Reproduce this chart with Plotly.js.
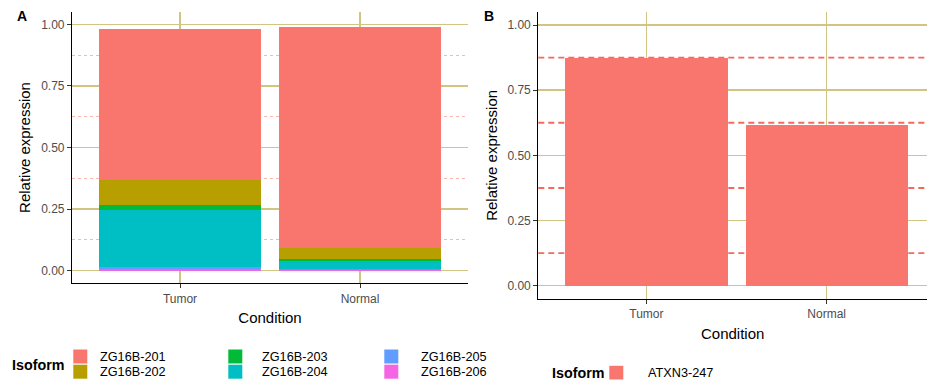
<!DOCTYPE html>
<html>
<head>
<meta charset="utf-8">
<script src="https://cdn.plot.ly/plotly-3.0.1.min.js"></script>
<style>html,body{margin:0;padding:0;background:#fff;}#chart{width:927px;height:382px;}</style>
</head>
<body>
<div id="chart"></div>
<script>
// ---- data ----
const conditions = ['Tumor', 'Normal'];
const isoformsA = ['ZG16B-201', 'ZG16B-202', 'ZG16B-203', 'ZG16B-204', 'ZG16B-205', 'ZG16B-206'];
const colorsA = ['#F8766D', '#B79F00', '#00BA38', '#00BFC4', '#619CFF', '#F564E3'];
const zg16b201 = [0.611, 0.897];
const zg16b202 = [0.105, 0.044];
const zg16b203 = [0.020, 0.008];
const zg16b204 = [0.230, 0.033];
const zg16b205 = [0.010, 0.006];
const zg16b206 = [0.005, 0.002];
const isoformsB = ['ATXN3-247'];
const colorsB = ['#F8766D'];
const atxn3_247 = [0.873, 0.615];
const yTickVals = [0, 0.25, 0.5, 0.75, 1];
const yTickText = ['0.00', '0.25', '0.50', '0.75', '1.00'];
const yMinorVals = [0.125, 0.375, 0.625, 0.875];

// ---- helpers ----
const W = 927, H = 382;
const px = v => v / W;
const py = v => 1 - v / H;
const FONT = 'Liberation Sans, Arial, Helvetica, sans-serif';
const GRID = '#D2C482';

const seriesA = [zg16b201, zg16b202, zg16b203, zg16b204, zg16b205, zg16b206];
const traces = [];
// ggplot stacks first level on top: add bottom-most first
for (let i = seriesA.length - 1; i >= 0; i--) {
  traces.push({
    type: 'bar', x: conditions, y: seriesA[i], name: isoformsA[i],
    marker: {color: colorsA[i], line: {width: 0}}, width: 0.9,
    xaxis: 'x', yaxis: 'y', showlegend: false
  });
}
traces.push({
  type: 'bar', x: conditions, y: atxn3_247, name: isoformsB[0],
  marker: {color: colorsB[0], line: {width: 0}}, width: 0.9,
  xaxis: 'x2', yaxis: 'y2', showlegend: false
});

function xAxis(domain, range, anchor) {
  return {
    domain: domain, range: range, anchor: anchor, type: 'category',
    categoryorder: 'array', categoryarray: conditions,
    showline: true, linecolor: '#000', linewidth: 1.1, mirror: false,
    ticks: 'outside', ticklen: 4, tickwidth: 1, tickcolor: '#333',
    showgrid: true, gridcolor: GRID, gridwidth: 1.5, zeroline: false,
    tickfont: {family: FONT, size: 12, color: '#4D4D4D'},
    title: {text: 'Condition', font: {family: FONT, size: 15, color: '#000'}, standoff: 8},
    automargin: false, fixedrange: true
  };
}
function yAxis(domain, anchor, minor) {
  const ax = {
    domain: domain, range: [-0.05, 1.05], anchor: anchor,
    tickmode: 'array', tickvals: yTickVals, ticktext: yTickText,
    showline: true, linecolor: '#000', linewidth: 1.1,
    ticks: 'outside', ticklen: 4, tickwidth: 1, tickcolor: '#333',
    showgrid: true, gridcolor: GRID, gridwidth: 1.5, zeroline: false,
    tickfont: {family: FONT, size: 12, color: '#4D4D4D'},
    title: {text: 'Relative expression', font: {family: FONT, size: 15, color: '#000'}, standoff: 6},
    automargin: false, fixedrange: true
  };
  if (minor) ax.minor = minor;
  return ax;
}

const shapes = [];
const annotations = [];
// dashed reference lines in panel B (drawn under the bars)
yMinorVals.forEach(v => {
  shapes.push({type: 'line', xref: 'x2 domain', yref: 'y2', x0: 0, x1: 1, y0: v, y1: v, layer: 'below',
    line: {color: '#F4695B', width: 1.9, dash: '6px,4px'}});
});
// panel tags
annotations.push({xref: 'paper', yref: 'paper', x: px(15), y: py(16), xanchor: 'left', yanchor: 'middle',
  text: 'A', showarrow: false, font: {family: FONT, size: 14, color: '#000', weight: 'bold'}});
annotations.push({xref: 'paper', yref: 'paper', x: px(481.5), y: py(16), xanchor: 'left', yanchor: 'middle',
  text: 'B', showarrow: false, font: {family: FONT, size: 14, color: '#000', weight: 'bold'}});

// legend A (3 columns x 2 rows, column-major like ggplot)
annotations.push({xref: 'paper', yref: 'paper', x: px(9.5), y: py(364.5), xanchor: 'left', yanchor: 'middle',
  text: 'Isoform', showarrow: false, font: {family: FONT, size: 14.3, color: '#000', weight: 'bold'}});
const colKeyX = [73.3, 228.3, 384.3];
const colTextX = [97.7, 260, 419];
const rowTop = [349.5, 364.7];
isoformsA.forEach((name, i) => {
  const c = Math.floor(i / 2), r = i % 2;
  shapes.push({type: 'rect', xref: 'paper', yref: 'paper', x0: px(colKeyX[c]), x1: px(colKeyX[c] + 14),
    y0: py(rowTop[r] + 14), y1: py(rowTop[r]), fillcolor: colorsA[i], line: {width: 0}});
  annotations.push({xref: 'paper', yref: 'paper', x: px(colTextX[c]), y: py(rowTop[r] + 7.3), xanchor: 'left', yanchor: 'middle',
    text: name, showarrow: false, font: {family: FONT, size: 12.7, color: '#000'}});
});
// legend B
annotations.push({xref: 'paper', yref: 'paper', x: px(549.5), y: py(372.5), xanchor: 'left', yanchor: 'middle',
  text: 'Isoform', showarrow: false, font: {family: FONT, size: 14.3, color: '#000', weight: 'bold'}});
isoformsB.forEach((name, i) => {
  shapes.push({type: 'rect', xref: 'paper', yref: 'paper', x0: px(609.3), x1: px(623.3),
    y0: py(379.5), y1: py(365.8), fillcolor: colorsB[i], line: {width: 0}});
  annotations.push({xref: 'paper', yref: 'paper', x: px(645.5), y: py(372.8), xanchor: 'left', yanchor: 'middle',
    text: name, showarrow: false, font: {family: FONT, size: 12.7, color: '#000'}});
});

const layout = {
  width: W, height: H,
  margin: {l: 0, r: 0, t: 0, b: 0, pad: 0},
  paper_bgcolor: '#fff', plot_bgcolor: '#fff',
  barmode: 'stack', bargap: 0.1,
  font: {family: FONT, color: '#000'},
  showlegend: false,
  xaxis: xAxis([px(72), px(468)], [-0.6, 1.6], 'y'),
  yaxis: yAxis([py(283), py(12)], 'x', {tickmode: 'array', tickvals: yMinorVals, ticks: '', showgrid: true,
            gridcolor: '#F9A59C', gridwidth: 0.8, griddash: '3px,3px'}),
  xaxis2: xAxis([px(538.3), 1], [-0.6, 1.557], 'y2'),
  yaxis2: yAxis([py(298.7), py(12)], 'x2', null),
  shapes: shapes,
  annotations: annotations
};

Plotly.newPlot('chart', traces, layout, {displayModeBar: false, staticPlot: true});
</script>
</body>
</html>
